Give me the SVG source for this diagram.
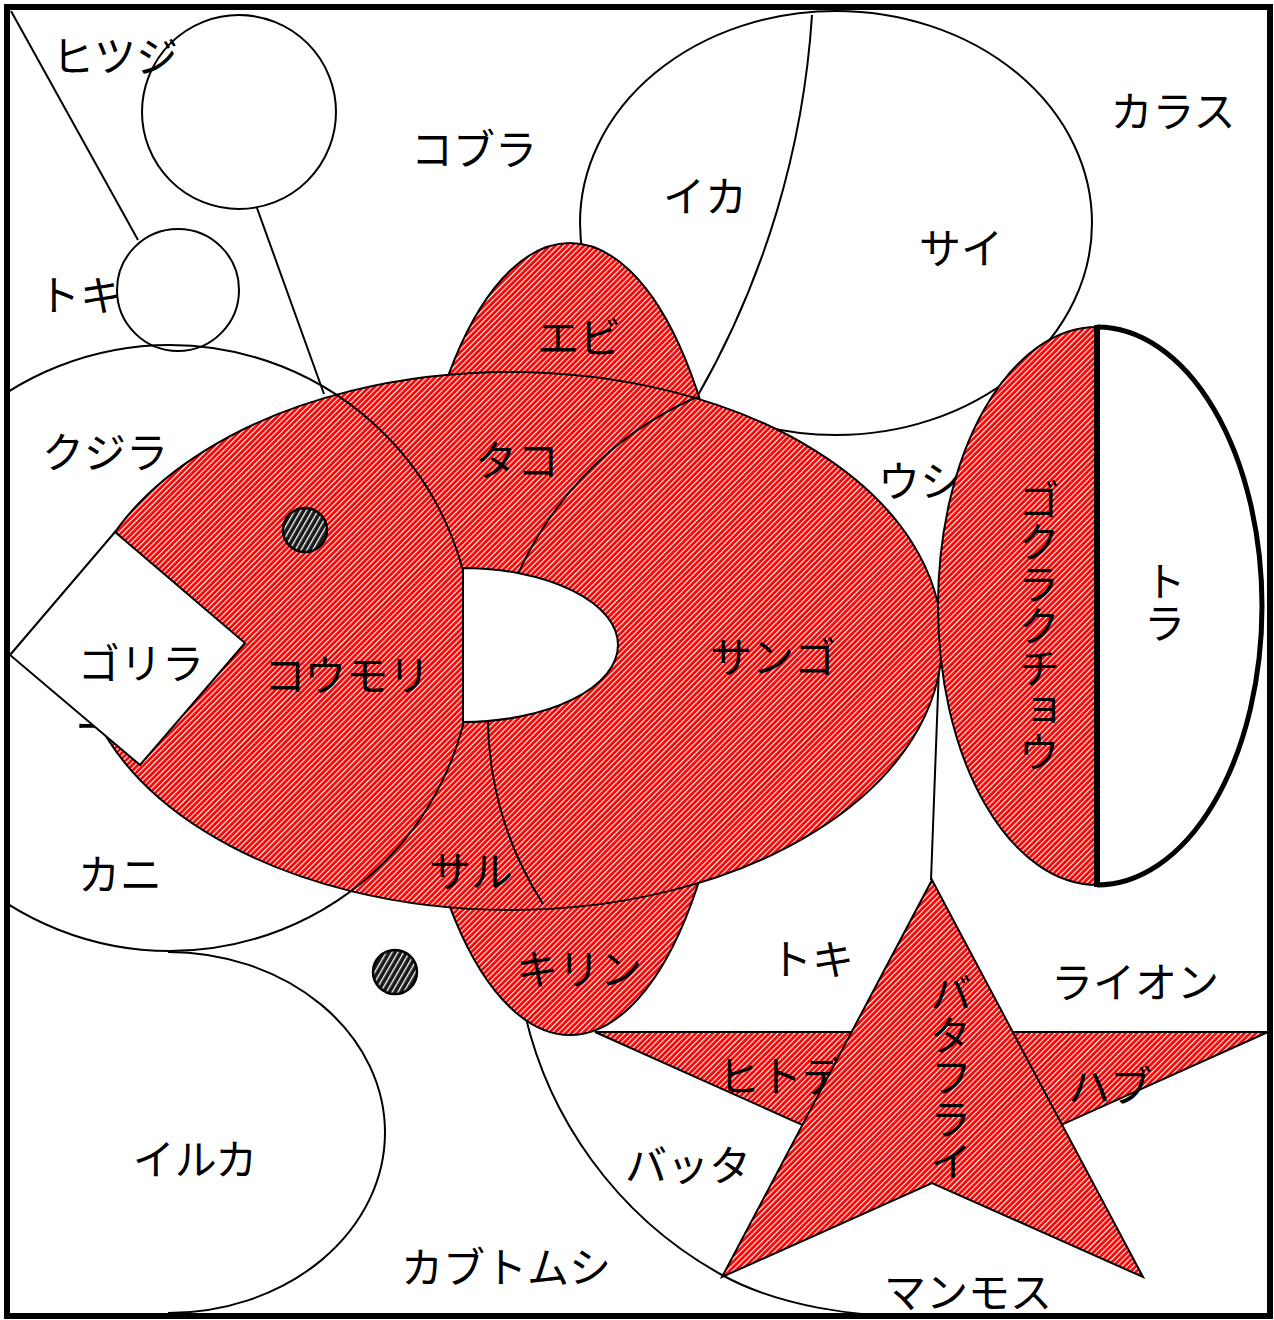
<svg xmlns="http://www.w3.org/2000/svg" width="1274" height="1320" viewBox="0 0 1274 1320">
  <defs>
    <pattern id="redHatch" patternUnits="userSpaceOnUse" width="4" height="4" patternTransform="rotate(-45)">
      <rect width="4" height="4" fill="#ff0000"/>
      <rect width="4" height="1.15" fill="#ffffff"/>
    </pattern>
    <pattern id="darkHatch" patternUnits="userSpaceOnUse" width="5" height="5" patternTransform="rotate(-60)">
      <rect width="5" height="5" fill="#1a1a1a"/>
      <rect width="5" height="1.3" fill="#ffffff"/>
    </pattern>
    <clipPath id="frame">
      <rect x="7" y="7" width="1263" height="1309"/>
    </clipPath>
    <style>
      .ln { fill: none; stroke: #000; stroke-width: 2; }
      .wh { fill: #fff; stroke: #000; stroke-width: 2; }
      .red { fill: url(#redHatch); stroke: #000; stroke-width: 2; }
      .eye { fill: url(#darkHatch); stroke: #000; stroke-width: 2.5; }
      .lbl { font-family: "Noto Sans CJK JP", "Noto Sans", sans-serif; font-size: 42px; fill: #000; text-anchor: middle; }
      .v { writing-mode: vertical-rl; }
    </style>
  </defs>
  <rect x="0" y="0" width="1274" height="1320" fill="#fff"/>
  <g clip-path="url(#frame)">
    <g id="connectors">
      <line class="ln" x1="11" y1="11" x2="138" y2="240"/>
      <line class="ln" x1="257" y1="208" x2="324" y2="394"/>
      <line class="ln" x1="940" y1="640" x2="931" y2="880"/>
    </g>
    <g id="hitsuji">
      <circle class="ln" cx="239" cy="112" r="97"/>
      <text class="lbl" x="115" y="72">ヒツジ</text>
    </g>
    <g id="toki-1">
      <circle class="ln" cx="178" cy="290" r="61"/>
      <text class="lbl" x="80" y="311">トキ</text>
    </g>
    <g id="kobura">
      <text class="lbl" x="474" y="165">コブラ</text>
    </g>
    <g id="karasu">
      <text class="lbl" x="1173" y="127">カラス</text>
    </g>
    <g id="ika-sai">
      <ellipse class="ln" cx="836" cy="223" rx="256" ry="212"/>
      <path class="ln" d="M812,15 A880,880 0 0 1 697,397"/>
      <text class="lbl" x="705" y="212">イカ</text>
      <text class="lbl" x="961" y="264">サイ</text>
    </g>
    <g id="batta-mammoth">
      <path class="ln" d="M522,1000 A401,401 0 0 0 722,1275 C782,1308 860,1316 905,1316"/>
      <text class="lbl" x="688" y="1181">バッタ</text>
      <text class="lbl" x="968" y="1308">マンモス</text>
    </g>
    <g id="kabutomushi">
      <text class="lbl" x="506" y="1283">カブトムシ</text>
    </g>
    <g id="iruka">
      <path class="ln" d="M168,952 A217,180.5 0 0 1 168,1313"/>
      <text class="lbl" x="195" y="1175">イルカ</text>
    </g>
    <g id="ebi-kirin">
      <ellipse class="red" cx="570" cy="639" rx="163" ry="396"/>
      <text class="lbl" x="579" y="353">エビ</text>
      <text class="lbl" x="579" y="985">キリン</text>
    </g>
    <g id="fish">
      <ellipse class="red" cx="510" cy="641" rx="432" ry="269"/>
      <text class="lbl" x="517" y="476">タコ</text>
      <text class="lbl" x="347" y="691">コウモリ</text>
      <text class="lbl" x="773" y="673">サンゴ</text>
      <text class="lbl" x="471" y="887">サル</text>
    </g>
    <g id="kujira-kani">
      <circle class="ln" cx="170" cy="648" r="303"/>
      <path class="ln" d="M697,397 A348,348 0 0 0 543,904"/>
      <text class="lbl" x="105" y="468">クジラ</text>
      <text class="lbl" x="120" y="890">カニ</text>
    </g>
    <g id="hole">
      <path class="wh" d="M463,568 A155,77 0 0 1 463,722 Z"/>
    </g>
    <g id="gorilla">
      <text class="lbl" x="96" y="742">ー</text>
      <polygon class="wh" points="10,655 115,532 245,643 140,765"/>
      <text class="lbl" x="141" y="679">ゴリラ</text>
    </g>
    <g id="ushi">
      <text class="lbl" x="920" y="497">ウシ</text>
    </g>
    <g id="gokurakuchou">
      <path class="red" d="M1097,327 A159,279 0 0 0 938,606 A159,279 0 0 0 1097,885 Z"/>
      <text class="lbl v" x="1039" y="626">ゴクラクチョウ</text>
    </g>
    <g id="tora">
      <path fill="#fff" stroke="#000" stroke-width="5" d="M1097,327 A165,279 0 0 1 1262,606 A165,279 0 0 1 1097,885"/>
      <line x1="1097" y1="325" x2="1097" y2="887" stroke="#000" stroke-width="6"/>
      <text class="lbl v" x="1165" y="602">トラ</text>
    </g>
    <g id="toki-2">
      <text class="lbl" x="812" y="975">トキ</text>
    </g>
    <g id="raion">
      <text class="lbl" x="1135" y="998">ライオン</text>
    </g>
    <g id="star-arms">
      <polygon class="red" points="595,1032 1268,1032 932,1183"/>
      <text class="lbl" x="781" y="1092">ヒトデ</text>
      <text class="lbl" x="1110" y="1102">ハブ</text>
    </g>
    <g id="star-body">
      <polygon class="red" points="932,880 1143,1277 932,1183 722,1277"/>
      <text class="lbl v" x="951" y="1077">バタフライ</text>
    </g>
    <g id="eye-1">
      <circle class="eye" cx="305" cy="530" r="22"/>
    </g>
    <g id="eye-2">
      <circle class="eye" cx="395" cy="972" r="22"/>
    </g>
  </g>
  <rect x="7" y="7" width="1263" height="1309" fill="none" stroke="#000" stroke-width="6"/>
</svg>
